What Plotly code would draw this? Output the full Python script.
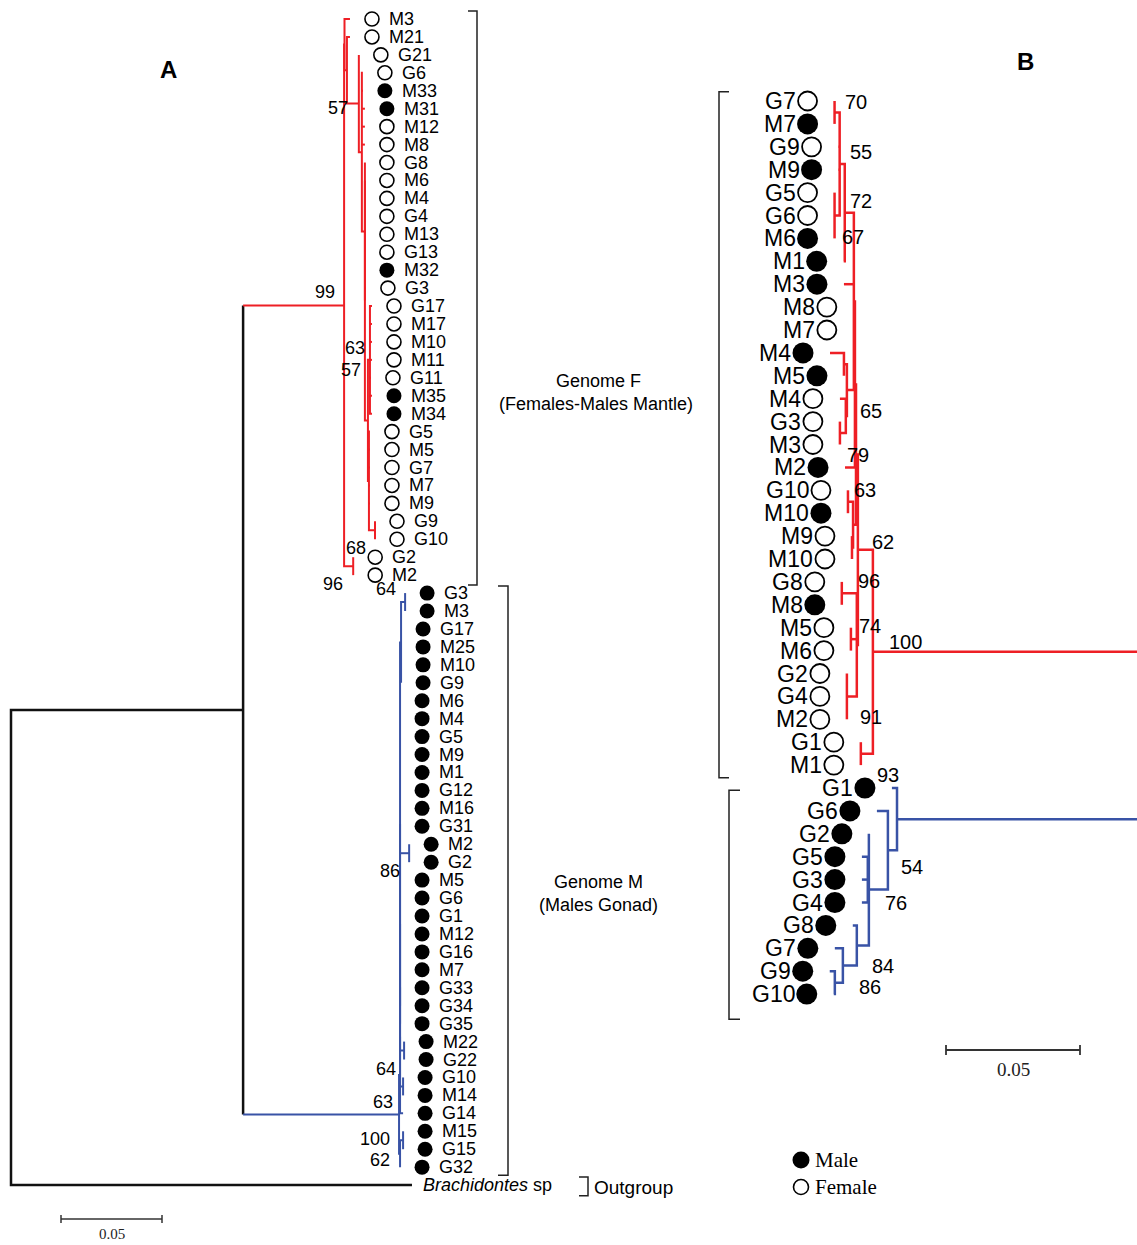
import plotly.graph_objects as go

W, H = 1137, 1245

# ======================= DATA =======================
# Panel A (branch lengths in substitutions/site, bootstrap values as internal labels)
A_RED_CLADE = (
    "((M3:0.0027,(M21:0.0015,(G21:0,(G6:0.0005,M33:0.0005,M31:0.0015,M12:0.0015,"
    "M8:0.0015,(G8:0,(M6:0,M4:0,G4:0,M13:0,G13:0,M32:0,G3:0.0005,"
    "((G17:0.001,M17:0.001,M10:0.001,M11:0.001,G11:0.0005,M35:0.001,M34:0.001)63:0.001,"
    "(G5:0.0005,M5:0.0005,G7:0.0005,M7:0.0005,M9:0.0005,(G9:0,G10:0)68:0.003):0.0005)57:0.0015"
    "):0):0.0015):0.0015)57:0.0059):0.0012):0.0002,(G2:0,M2:0)96:0.0045)99"
)
A_BLUE_CLADE = (
    "((((((((G3:0,M3:0)64:0.002,G17:0,M25:0,M10:0,G9:0):0.0005,M6:0,M4:0,G5:0,M9:0,"
    "M1:0,G12:0,M16:0,G31:0,(M2:0,G2:0)86:0.0045,M5:0,G6:0,G1:0,M12:0,G16:0,M7:0,"
    "G33:0,G34:0):0,G35:0):0,(M22:0,G22:0):0.002):0,(G10:0,M14:0):0.0015):0,"
    "G14:0.0015)64:0.0005,((M15:0,G15:0)100:0.0015,G32:0)62:0.0005)63"
)
A_RED_STEM = 0.0500
A_BLUE_STEM = 0.0772
A_INGROUP_STEM = 0.1149
A_OUTGROUP_NAME = "Brachidontes sp"
A_OUTGROUP_LEN = 0.1985
A_RED_SEX = list("FFFFMMFFFFFFFFMFFFFFFMMFFFFFFFFF")
A_BLUE_SEX = list("MMMMMMMMMMMMMMMMMMMMMMMMMMMMMMMMM")

# Panel B
B_RED_CLADE = (
    "((((((((G7:0,M7:0)70:0.0019,G9:0.0004,M9:0.0004,(G5:0,G6:0,M6:0)72:0.0019)55:0.0019,"
    "M1:0.0004)67:0.0034,M3:0.0037,M8:0,M7:0,((M4:0.0052,M5:0):0.0011,"
    "(M4:0.0022,(G3:0,M3:0):0.0022)65:0.0004):0.0026):0.0004,M2:0.0037):0.0004,"
    "((G10:0,M10:0)63:0.0019,(M9:0,M10:0):0.0004):0.0011)79:0.0007,"
    "((G8:0,M8:0)96:0.0056,(M5:0,M6:0)74:0.0022,(G2:0,G4:0,M2:0)91:0.0037):0.0004)62:0.0056,"
    "(G1:0,M1:0)93:0.0045)100"
)
B_BLUE_CLADE = (
    "(G1:0.0019,(G6:0.0041,(G2:0,(G5:0.0022,G3:0.0022,G4:0.0022):0.0004,"
    "(G8:0.0015,(G7:0.0030,(G9:0.0019,G10:0.0004):0.0030)86:0.0052)84:0.0045)76:0.0071)54:0.0034)"
)
B_RED_STEM = 0.1034
B_BLUE_STEM = 0.0944
B_RED_SEX = list("FMFMFFMMMFFMMFFFMFMFFFMFFFFFFF")
B_BLUE_SEX = list("MMMMMMMMMM")

SCALE_BAR = 0.05
LEGEND_ITEMS = ["Male", "Female"]
GENOME_F = ["Genome F", "(Females-Males Mantle)"]
GENOME_M = ["Genome M", "(Males Gonad)"]

# ======================= LAYOUT / STYLE =======================
A_PPU, A_X0, A_Y0, A_ROW = 2020.0, 11.0, 19.0, 17.94
B_PPU, B_XR, B_Y0, B_ROW = 2680.0, 1150.0, 101.0, 22.9
RED, BLUE, BLACK = "#ee1f25", "#3953a6", "#111111"
SANS = "Arial, 'Liberation Sans', sans-serif"
SERIF = "'Times New Roman', 'Liberation Serif', serif"

# bootstrap label offsets (dx, dy in px, screen), in order of appearance in the strings
A_BOOT_OFF = [(-3, -12), (-7, 18), (-5, -50), (-9, 4), (-8, 18), (-7, -13),
              (-7, -13), (-7, 18), (-2, -6), (-11, -1), (-8, 6), (-4, -12)]
B_BOOT_OFF = [(8, -10), (13, -15), (8, -12), (-5, 24), (12, -5), (4, -12), (-11, 0),
              (14, -12), (6, -13), (11, 21), (12, -8), (14, 21), (14, -10),
              (14, 22), (13, 21), (14, 13), (11, 17)]


def parse(s):
    s = s.strip().rstrip(";")
    pos = 0
    labeled = []

    def node():
        nonlocal pos
        n = {"ch": [], "name": "", "label": "", "len": 0.0}
        if s[pos] == "(":
            pos += 1
            while True:
                n["ch"].append(node())
                c = s[pos]
                pos += 1
                if c == ")":
                    break
        st = pos
        while pos < len(s) and s[pos] not in ":,()":
            pos += 1
        txt = s[st:pos].strip()
        if n["ch"]:
            n["label"] = txt
            if txt:
                labeled.append(n)
        else:
            n["name"] = txt
        if pos < len(s) and s[pos] == ":":
            pos += 1
            st = pos
            while pos < len(s) and s[pos] not in ",()":
                pos += 1
            n["len"] = float(s[st:pos])
        return n

    root = node()
    return root, labeled


def place(root):
    tips = []

    def rec(n, px):
        n["x"] = px + n["len"]
        if n["ch"]:
            for c in n["ch"]:
                rec(c, n["x"])
            n["y"] = (n["ch"][0]["y"] + n["ch"][-1]["y"]) / 2.0
        else:
            n["y"] = float(len(tips))
            tips.append(n)

    root["len"] = 0.0
    rec(root, 0.0)
    return tips


def paint(n, col):
    n["col"] = col
    for c in n["ch"]:
        paint(c, col)


def collect(n, out):
    if not n["ch"]:
        return
    col = n["col"]
    xs, ys = out.setdefault(col, ([], []))
    c0, cl = n["ch"][0], n["ch"][-1]
    px, py = [], []
    if c0["col"] == col:
        px += [c0["x"]]; py += [c0["y"]]
    else:
        cx, cy = out.setdefault(c0["col"], ([], []))
        cx += [n["x"], c0["x"], None]; cy += [c0["y"], c0["y"], None]
    px += [n["x"], n["x"]]; py += [c0["y"], cl["y"]]
    if cl["col"] == col:
        px += [cl["x"]]; py += [cl["y"]]
    else:
        cx, cy = out.setdefault(cl["col"], ([], []))
        cx += [n["x"], cl["x"], None]; cy += [cl["y"], cl["y"], None]
    xs += px + [None]; ys += py + [None]
    for c in n["ch"][1:-1]:
        cx, cy = out.setdefault(c["col"], ([], []))
        cx += [n["x"], c["x"], None]; cy += [c["y"], c["y"], None]
    for c in n["ch"]:
        collect(c, out)


fig = go.Figure()
ann = []

# ---------------- Panel A ----------------
a_str = "((%s:%s,%s:%s):%s,%s:%s)" % (A_RED_CLADE, A_RED_STEM, A_BLUE_CLADE, A_BLUE_STEM,
                                     A_INGROUP_STEM, A_OUTGROUP_NAME, A_OUTGROUP_LEN)
a_root, a_lab = parse(a_str)
a_tips = place(a_root)
paint(a_root, BLACK)
paint(a_root["ch"][0]["ch"][0], RED)
paint(a_root["ch"][0]["ch"][1], BLUE)
segs = {}
collect(a_root, segs)
for col, (xs, ys) in segs.items():
    fig.add_trace(go.Scatter(x=xs, y=ys, mode="lines", xaxis="x", yaxis="y",
                             line=dict(color=col, width=2.5 if col == BLACK else 2),
                             hoverinfo="skip"))

a_sex = A_RED_SEX + A_BLUE_SEX
fx, fy, ox, oy = [], [], [], []
for t, s in zip(a_tips[:len(a_sex)], a_sex):
    (fx if s == "M" else ox).append(t["x"] + 22 / A_PPU)
    (fy if s == "M" else oy).append(t["y"])
    ann.append(dict(x=t["x"] + 37 / A_PPU, y=t["y"], xref="x", yref="y", text=t["name"],
                    xanchor="left", yanchor="middle", showarrow=False,
                    font=dict(family=SANS, size=18, color="black")))
og = a_tips[-1]
ann.append(dict(x=og["x"] + 9 / A_PPU, y=og["y"], xref="x", yref="y",
                text="<i>Brachidontes</i> sp", xanchor="left", yanchor="middle",
                showarrow=False, font=dict(family=SANS, size=18, color="black")))
fig.add_trace(go.Scatter(x=fx, y=fy, mode="markers", xaxis="x", yaxis="y", hoverinfo="skip",
                         marker=dict(size=15, color="black", line=dict(width=0))))
fig.add_trace(go.Scatter(x=ox, y=oy, mode="markers", xaxis="x", yaxis="y", hoverinfo="skip",
                         marker=dict(size=14, color="white", line=dict(width=1.6, color="black"))))
for n, (dx, dy) in zip(a_lab, A_BOOT_OFF):
    ann.append(dict(x=n["x"], y=n["y"], xref="x", yref="y", text=n["label"], xshift=dx,
                    yshift=-dy, xanchor="right", yanchor="middle", showarrow=False,
                    font=dict(family=SANS, size=18, color="black")))

# ---------------- Panel B ----------------
b_str = "(%s:%s,%s:%s)" % (B_RED_CLADE, B_RED_STEM, B_BLUE_CLADE, B_BLUE_STEM)
b_root, b_lab = parse(b_str)
b_tips = place(b_root)
paint(b_root, BLACK)
paint(b_root["ch"][0], RED)
paint(b_root["ch"][1], BLUE)
segs = {}
collect(b_root, segs)
for col, (xs, ys) in segs.items():
    fig.add_trace(go.Scatter(x=xs, y=ys, mode="lines", xaxis="x2", yaxis="y2",
                             line=dict(color=col, width=2.5), hoverinfo="skip"))
b_sex = B_RED_SEX + B_BLUE_SEX
fx, fy, ox, oy = [], [], [], []
for t, s in zip(b_tips, b_sex):
    (fx if s == "M" else ox).append(t["x"] + 27 / B_PPU)
    (fy if s == "M" else oy).append(t["y"])
    ann.append(dict(x=t["x"] + 37 / B_PPU, y=t["y"], xref="x2", yref="y2", text=t["name"],
                    xanchor="right", yanchor="middle", showarrow=False,
                    font=dict(family=SANS, size=23, color="black")))
fig.add_trace(go.Scatter(x=fx, y=fy, mode="markers", xaxis="x2", yaxis="y2", hoverinfo="skip",
                         marker=dict(size=21, color="black", line=dict(width=0))))
fig.add_trace(go.Scatter(x=ox, y=oy, mode="markers", xaxis="x2", yaxis="y2", hoverinfo="skip",
                         marker=dict(size=19, color="white", line=dict(width=1.8, color="black"))))
for n, (dx, dy) in zip(b_lab, B_BOOT_OFF):
    ann.append(dict(x=n["x"], y=n["y"], xref="x2", yref="y2", text=n["label"], xshift=dx,
                    yshift=-dy, xanchor="left", yanchor="middle", showarrow=False,
                    font=dict(family=SANS, size=20, color="black")))


# ---------------- decorations ----------------
def a_x(px): return (px - A_X0) / A_PPU
def a_y(py): return (py - A_Y0) / A_ROW
def b_x(px): return (B_XR - px) / B_PPU
def b_y(py): return (py - B_Y0) / B_ROW


def bracket(spine_px, tick_px, i0, i1, xf, axes):
    x_s, x_t = xf(spine_px), xf(spine_px + tick_px)
    fig.add_trace(go.Scatter(x=[x_t, x_s, x_s, x_t], y=[i0, i0, i1, i1], mode="lines",
                             xaxis=axes[0], yaxis=axes[1], hoverinfo="skip",
                             line=dict(color="#222", width=1.5)))


n_red_a, n_blue_a = len(A_RED_SEX), len(A_BLUE_SEX)
bracket(477, -9, 0 - 0.45, n_red_a - 1 + 0.55, a_x, ("x", "y"))
bracket(508, -10, n_red_a - 0.4, n_red_a + n_blue_a - 1 + 0.45, a_x, ("x", "y"))
bracket(588, -9, og["y"] - 0.45, og["y"] + 0.6, a_x, ("x", "y"))
n_red_b = len(B_RED_SEX)
bracket(719, 10, -0.4, n_red_b - 1 + 0.55, b_x, ("x2", "y2"))
bracket(729, 11, n_red_b + 0.1, len(b_tips) - 1 + 1.1, b_x, ("x2", "y2"))

# scale bars
sx0 = a_x(61); sy = a_y(1219); tk = 4 / A_ROW
fig.add_trace(go.Scatter(x=[sx0, sx0 + SCALE_BAR, None, sx0, sx0, None, sx0 + SCALE_BAR, sx0 + SCALE_BAR],
                         y=[sy, sy, None, sy - tk, sy + tk, None, sy - tk, sy + tk],
                         mode="lines", xaxis="x", yaxis="y", hoverinfo="skip",
                         line=dict(color="#333", width=1.5)))
ann.append(dict(x=sx0 + SCALE_BAR / 2, y=a_y(1234), xref="x", yref="y", text="%.2f" % SCALE_BAR,
                showarrow=False, font=dict(family=SERIF, size=15, color="#222")))
bx0 = b_x(946); by = b_y(1050); tk = 5 / B_ROW
fig.add_trace(go.Scatter(x=[bx0, bx0 - SCALE_BAR, None, bx0, bx0, None, bx0 - SCALE_BAR, bx0 - SCALE_BAR],
                         y=[by, by, None, by - tk, by + tk, None, by - tk, by + tk],
                         mode="lines", xaxis="x2", yaxis="y2", hoverinfo="skip",
                         line=dict(color="#333", width=1.8)))
ann.append(dict(x=bx0 - SCALE_BAR / 2, y=b_y(1069), xref="x2", yref="y2", text="%.2f" % SCALE_BAR,
                showarrow=False, font=dict(family=SERIF, size=19, color="#222")))

# legend
fig.add_trace(go.Scatter(x=[a_x(801)], y=[a_y(1160)], mode="markers", xaxis="x", yaxis="y",
                         hoverinfo="skip", marker=dict(size=17, color="black")))
fig.add_trace(go.Scatter(x=[a_x(801)], y=[a_y(1187)], mode="markers", xaxis="x", yaxis="y",
                         hoverinfo="skip",
                         marker=dict(size=15, color="white", line=dict(width=1.6, color="black"))))


def paper_text(txt, px, py, size, family=SANS, anchor="center", bold=False):
    ann.append(dict(x=px / W, y=1 - py / H, xref="paper", yref="paper",
                    text=("<b>%s</b>" % txt) if bold else txt, xanchor=anchor, yanchor="middle",
                    showarrow=False, font=dict(family=family, size=size, color="black")))


paper_text(LEGEND_ITEMS[0], 813, 1160, 21, SERIF, "left")
paper_text(LEGEND_ITEMS[1], 813, 1187, 21, SERIF, "left")
paper_text(GENOME_F[0], 598, 381, 18)
paper_text(GENOME_F[1], 596, 404, 18)
paper_text(GENOME_M[0], 598, 882, 18)
paper_text(GENOME_M[1], 598, 905, 18)
paper_text("Outgroup", 592, 1187, 19, SANS, "left")
paper_text("A", 168, 69, 24, bold=True)
paper_text("B", 1025, 61, 24, bold=True)

fig.update_layout(
    width=W, height=H, margin=dict(l=0, r=0, t=0, b=0),
    paper_bgcolor="white", plot_bgcolor="white", showlegend=False,
    annotations=ann,
    xaxis=dict(range=[a_x(0), a_x(W)], visible=False, fixedrange=True),
    yaxis=dict(range=[a_y(H), a_y(0)], visible=False, fixedrange=True),
    xaxis2=dict(range=[b_x(0), b_x(W)], visible=False, fixedrange=True,
                overlaying="x", anchor="y2"),
    yaxis2=dict(range=[b_y(H), b_y(0)], visible=False, fixedrange=True,
                overlaying="y", anchor="x2"),
)

fig.write_html("out.html", config={"displayModeBar": False},
               post_script="document.body.style.margin='0';")
